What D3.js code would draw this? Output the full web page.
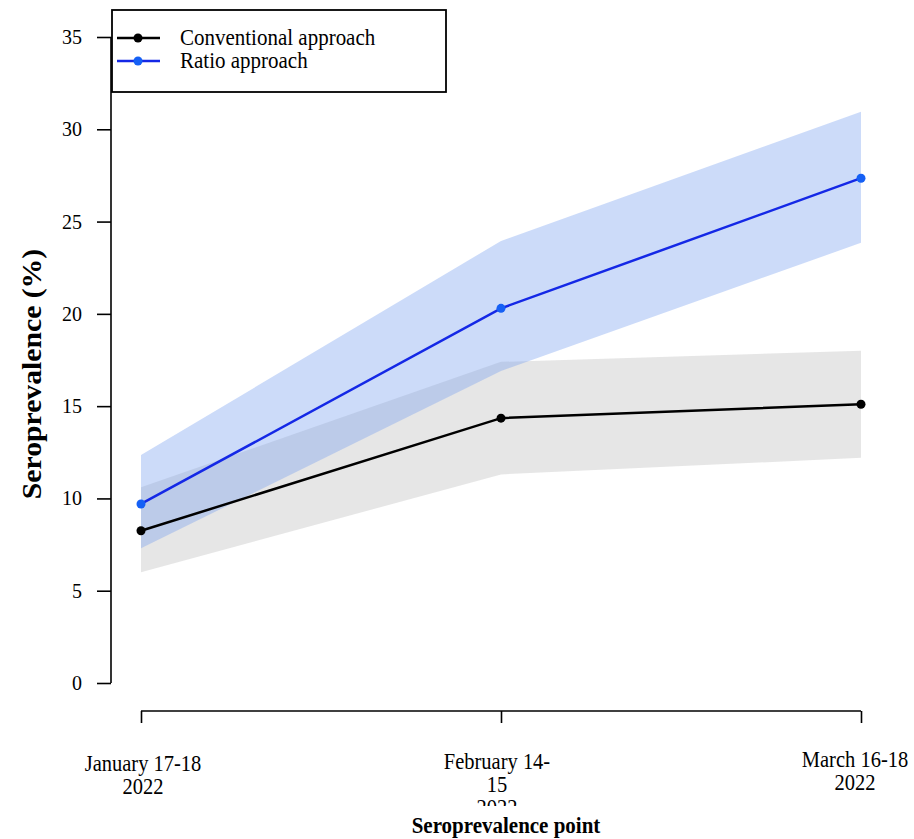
<!DOCTYPE html>
<html><head><meta charset="utf-8">
<script src="https://cdn.jsdelivr.net/npm/d3@7"></script>
<style>body{margin:0;background:#fff}svg{display:block}text{font-family:"Liberation Serif","Times New Roman",serif}</style>
</head><body>
<svg id="c" width="914" height="839"></svg>
<script>
const categories = ["Jan", "Feb", "Mar"];
const xLabels = [["January 17-18","2022"],["February 14-","15","2022"],["March 16-18","2022"]];
const conventional = [8.25, 14.35, 15.1];
const conventionalLo = [6.0, 11.3, 12.2];
const conventionalHi = [10.6, 17.4, 18.0];
const ratio = [9.7, 20.3, 27.35];
const ratioLo = [7.3, 16.9, 23.85];
const ratioHi = [12.35, 23.95, 30.95];
const yTicks = [0,5,10,15,20,25,30,35];

const SY = 1.1; // vertical stretch of the text in the reference
const svg = d3.select("#c");
const x = d3.scalePoint().domain(categories).range([141, 861]);
const y = d3.scaleLinear().domain([0,35]).range([683, 37]);

function txt(parent, tx, ty, s, opts) {
  return parent.append("text")
    .attr("transform", `translate(${tx},${ty}) ${opts.rot ? "rotate(-90) " : ""}scale(${opts.rot ? SY : 1},${opts.rot ? 1 : SY})`)
    .attr("text-anchor", opts.anchor || "start")
    .attr("font-size", opts.size || 21)
    .attr("font-weight", opts.bold ? "bold" : "normal")
    .attr("fill", "#000").text(s);
}

const area = (lo, hi) => d3.area().x((d,i)=>x(categories[i])).y0((d,i)=>y(lo[i])).y1((d,i)=>y(hi[i]))(categories);
svg.append("path").attr("d", area(conventionalLo, conventionalHi)).attr("fill","rgb(200,200,200)").attr("fill-opacity",0.45);
svg.append("path").attr("d", area(ratioLo, ratioHi)).attr("fill","rgb(120,160,240)").attr("fill-opacity",0.38);

const line = d3.line().x((d,i)=>x(categories[i])).y(d=>y(d));
svg.append("path").attr("d", line(conventional)).attr("fill","none").attr("stroke","#000").attr("stroke-width",2.5);
svg.append("path").attr("d", line(ratio)).attr("fill","none").attr("stroke","#1428e6").attr("stroke-width",2.5);
svg.selectAll(".pc").data(conventional).enter().append("circle").attr("cx",(d,i)=>x(categories[i])).attr("cy",d=>y(d)).attr("r",4.5).attr("fill","#000");
svg.selectAll(".pr").data(ratio).enter().append("circle").attr("cx",(d,i)=>x(categories[i])).attr("cy",d=>y(d)).attr("r",4.5).attr("fill","#1560f5");

// Y axis
const ya = svg.append("g").attr("transform","translate(111,0)")
  .call(d3.axisLeft(y).tickValues(yTicks).tickSize(14).tickFormat(""));
ya.select(".domain").attr("stroke","#000").attr("stroke-width",1.6).attr("d","M0,"+y(35)+"V"+y(0));
ya.selectAll(".tick line").attr("stroke","#000").attr("stroke-width",1.6);
yTicks.forEach(v => txt(svg, 82, y(v) + 7, String(v), {anchor:"end", size:20}));

// X axis
const xa = svg.append("g").attr("transform","translate(0,711)")
  .call(d3.axisBottom(x).tickSize(12).tickFormat(""));
xa.select(".domain").attr("stroke","#000").attr("stroke-width",1.6).attr("d","M"+x("Jan")+",0H"+x("Mar"));
xa.selectAll(".tick line").attr("stroke","#000").attr("stroke-width",1.6);

// X labels (third line of the middle label is cut off, as in the reference)
svg.append("clipPath").attr("id","clipx").append("rect").attr("x",0).attr("y",700).attr("width",914).attr("height",106);
const lblBase = [771, 769, 767];
const lblDx = [2, -4, -6];
const lg = svg.append("g").attr("clip-path","url(#clipx)");
xLabels.forEach((lines,i)=>{
  lines.forEach((t,j)=>{
    txt(lg, x(categories[i]) + lblDx[i], lblBase[i] + j*23, t, {anchor:"middle", size:20.5});
  });
});
txt(svg, 506, 833, "Seroprevalence point", {anchor:"middle", size:21, bold:true});
txt(svg, 41, 374, "Seroprevalence (%)", {anchor:"middle", size:27, bold:true, rot:true});

// Legend
const leg = svg.append("g");
leg.append("rect").attr("x",112).attr("y",10).attr("width",334).attr("height",82).attr("fill","#fff").attr("stroke","#000").attr("stroke-width",1.8);
const legItems = [{t:"Conventional approach", c:"#000", pc:"#000"}, {t:"Ratio approach", c:"#1428e6", pc:"#1560f5"}];
legItems.forEach((d,i)=>{
  const yy = 38 + i*23;
  leg.append("line").attr("x1",117).attr("x2",160).attr("y1",yy).attr("y2",yy).attr("stroke",d.c).attr("stroke-width",2.5);
  leg.append("circle").attr("cx",138).attr("cy",yy).attr("r",4.5).attr("fill",d.pc);
  txt(leg, 180, yy + 7, d.t, {size:21});
});
</script>
</body></html>
